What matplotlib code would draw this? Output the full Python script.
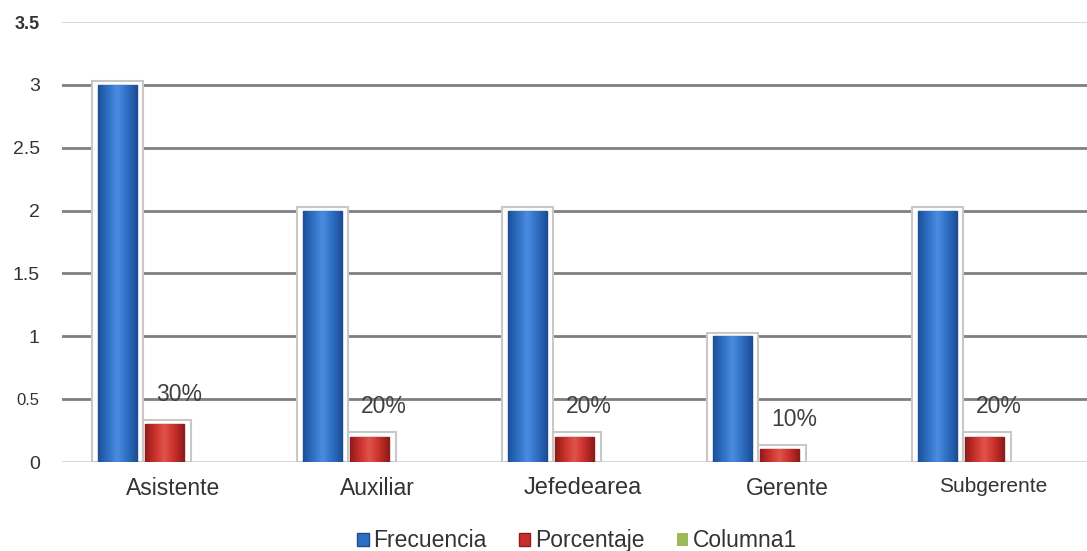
import numpy as np
import matplotlib.pyplot as plt
from matplotlib.patches import Rectangle
from matplotlib.colors import LinearSegmentedColormap

plt.rcParams['font.family'] = ['Liberation Sans', 'DejaVu Sans']

categorias = ['Asistente', 'Auxiliar', 'Jefedearea', 'Gerente', 'Subgerente']
frecuencia = [3, 2, 2, 1, 2]
porcentaje = [0.3, 0.2, 0.2, 0.1, 0.2]
columna1 = [0, 0, 0, 0, 0]
etiquetas = ['30%', '20%', '20%', '10%', '20%']

azul = '#2f6fc2'
azul_borde = '#1d4c8c'
rojo = '#c9302c'
rojo_borde = '#8e1c1a'
verde = '#9bbb59'

fig = plt.figure(figsize=(10.87, 5.51), dpi=100)
ax = fig.add_axes([0.057, 0.1615, 0.943, 0.7985])

x = np.arange(len(categorias))
w = 0.19
off = 0.23

# lineas de la cuadricula
for v in [0.5, 1, 1.5, 2, 2.5, 3]:
    ax.axhline(v, color='#7f7f7f', lw=2, zorder=0)
for v in [0, 3.5]:
    ax.axhline(v, color='#d9d9d9', lw=1.5, zorder=0)

# marcos grises alrededor de las barras
for i in range(len(x)):
    ax.add_patch(Rectangle((x[i] - off - w / 2 - 0.03, 0), w + 0.06, frecuencia[i] + 0.03,
                           facecolor='white', edgecolor='#c8c8c8', lw=1.5, zorder=1))
    ax.add_patch(Rectangle((x[i] - w / 2 - 0.01, 0), w + 0.045, porcentaje[i] + 0.035,
                           facecolor='white', edgecolor='#c8c8c8', lw=1.5, zorder=1))

b1 = ax.bar(x - off, frecuencia, w, color=azul, edgecolor=azul_borde, lw=1, zorder=2, label='Frecuencia')
b2 = ax.bar(x, porcentaje, w, color=rojo, edgecolor=rojo_borde, lw=1, zorder=2, label='Porcentaje')
ax.bar(x + off, columna1, w, color=verde, zorder=2, label='Columna1')

# brillo horizontal en las barras
grad = np.abs(np.linspace(-1, 1, 64))[None, :]
cm_azul = LinearSegmentedColormap.from_list('a', ['#4a8ae0', '#2f6fc2', '#1d4f9a'])
cm_rojo = LinearSegmentedColormap.from_list('r', ['#e0524a', '#c9302c', '#8e1c1a'])
for bars, cm in [(b1, cm_azul), (b2, cm_rojo)]:
    for r in bars:
        x0, y0 = r.get_x(), r.get_y()
        im = ax.imshow(grad, cmap=cm, aspect='auto', zorder=2.5,
                       extent=[x0, x0 + r.get_width(), y0, y0 + r.get_height()])
        im.set_clip_path(r)

for i in range(len(x)):
    ax.text(x[i] + 0.07, porcentaje[i] + 0.24, etiquetas[i], ha='center', va='center',
            fontsize=16.5, color='#404040', zorder=3)

ax.set_xlim(-0.5, len(categorias) - 0.5)
ax.set_ylim(0, 3.5)
ax.set_yticks([0, 0.5, 1, 1.5, 2, 2.5, 3, 3.5])
ax.set_yticklabels(['0', '0.5', '1', '1.5', '2', '2.5', '3', '3.5'])
for t in ax.get_yticklabels():
    t.set_fontsize(14)
    t.set_color('#333333')
ax.get_yticklabels()[-1].set_fontweight('bold')
ax.get_yticklabels()[-1].set_fontsize(13)
ax.get_yticklabels()[1].set_fontsize(12)
ax.tick_params(axis='y', length=0, pad=16)
ax.set_xticks(x + 0.04)
ax.set_xticklabels(categorias, fontsize=16.5, color='#333333')
ax.get_xticklabels()[2].set_fontsize(17)
ax.get_xticklabels()[-1].set_fontsize(15)
ax.tick_params(axis='x', length=0, pad=11)
for s in ax.spines.values():
    s.set_visible(False)

leg = fig.legend(loc='lower center', bbox_to_anchor=(0.531, -0.04), ncol=3, frameon=False,
                 fontsize=16.5, handlelength=0.5, handleheight=0.5, handletextpad=0.2,
                 columnspacing=1.4, labelcolor='#333333')

fig.savefig('out.png', dpi=100)
